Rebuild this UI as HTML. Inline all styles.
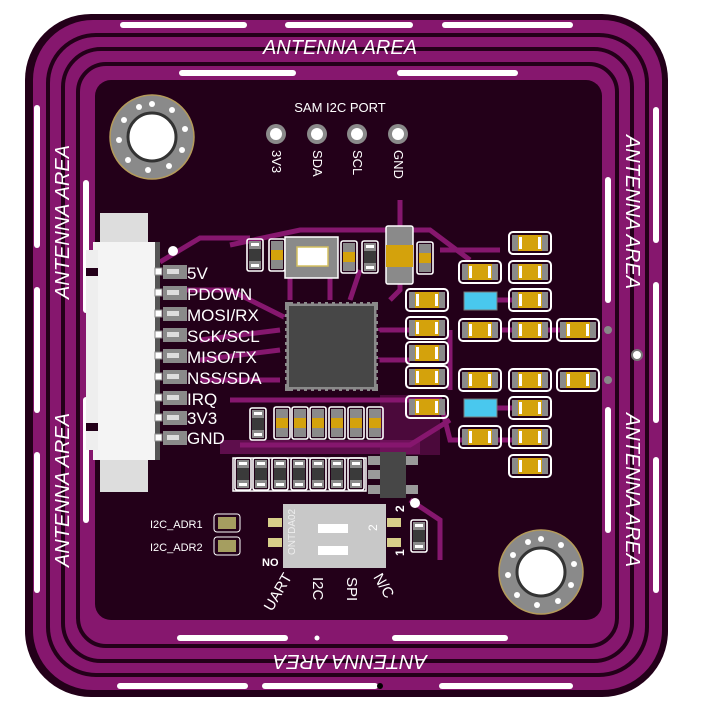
<!DOCTYPE html>
<html><head><meta charset="utf-8"><style>
html,body{margin:0;padding:0;background:#fff;}
svg{display:block;}
text{font-family:"Liberation Sans",sans-serif;fill:#fff;}
</style></head><body>
<svg width="701" height="712" viewBox="0 0 701 712" xmlns="http://www.w3.org/2000/svg">
<defs>
<g id="ch">
<rect x="-21" y="-11" width="42" height="22" rx="4" fill="none" stroke="#fff" stroke-width="2"/>
<rect x="-18" y="-8" width="36" height="16" fill="#8a8a8a"/>
<rect x="-12" y="-8" width="24" height="16" fill="#d4a20c"/>
<rect x="-11" y="-6" width="3" height="12" fill="#fff"/><rect x="8" y="-6" width="3" height="12" fill="#fff"/>
</g>
<g id="cv">
<rect x="-8" y="-16" width="16" height="32" rx="2" fill="none" stroke="#fff" stroke-width="1.6"/>
<rect x="-6" y="-14" width="12" height="28" fill="#8a8a8a"/>
<rect x="-6" y="-5" width="12" height="10" fill="#d4a20c"/>
</g>
<g id="rv">
<rect x="-8" y="-16" width="16" height="32" rx="2" fill="none" stroke="#fff" stroke-width="1.6"/>
<rect x="-6" y="-14" width="12" height="28" fill="#8a8a8a"/>
<rect x="-6" y="-6" width="12" height="12" fill="#3a3a3a"/>
<rect x="-4" y="-12" width="8" height="3" fill="#fff"/><rect x="-4" y="9" width="8" height="3" fill="#fff"/>
</g>
<g id="pin"><circle r="10" fill="#8a8a8a"/><circle r="6" fill="#fff"/></g>
<g id="cpad"><rect x="-12" y="-7" width="24" height="14" fill="#8a8a8a"/><rect x="-8" y="-3" width="12" height="5" fill="#ddd"/><rect x="-20" y="-4" width="7" height="7" fill="#fff" stroke="#888"/></g>
</defs>
<rect x="25" y="14" width="643" height="683" rx="66" fill="#230019"/>
<rect x="33" y="20" width="629" height="670" rx="60" fill="#86176e"/>
<g fill="none" stroke="#230019" stroke-width="4">
<rect x="48" y="35" width="599" height="640" rx="48"/>
<rect x="63" y="49" width="569" height="612" rx="38"/>
<rect x="78" y="64" width="539" height="582" rx="28"/>
</g>
<rect x="95" y="80" width="507" height="540" rx="16" fill="#230019"/>
<g stroke="#fff" stroke-width="6" stroke-linecap="round">
<line x1="123" y1="25" x2="244" y2="25"/><line x1="288" y1="25" x2="410" y2="25"/><line x1="445" y1="25" x2="570" y2="25"/>
<line x1="182" y1="73" x2="293" y2="73"/><line x1="400" y1="73" x2="515" y2="73"/>
<line x1="37" y1="108" x2="37" y2="245"/><line x1="37" y1="290" x2="37" y2="410"/><line x1="37" y1="455" x2="37" y2="590"/>
<line x1="86" y1="183" x2="86" y2="310"/><line x1="86" y1="400" x2="86" y2="520"/>
<line x1="656" y1="110" x2="656" y2="240"/><line x1="656" y1="285" x2="656" y2="420"/><line x1="656" y1="460" x2="656" y2="590"/>
<line x1="608" y1="180" x2="608" y2="300"/><line x1="608" y1="410" x2="608" y2="530"/>
<line x1="180" y1="638" x2="285" y2="638"/><line x1="395" y1="638" x2="505" y2="638"/>
<line x1="120" y1="686" x2="245" y2="686"/><line x1="265" y1="686" x2="375" y2="686"/><line x1="442" y1="686" x2="570" y2="686"/>
</g>
<circle cx="380" cy="686" r="3" fill="#000"/><circle cx="317" cy="638" r="2.5" fill="#fff"/>
<g font-size="20" font-style="italic">
<text x="340" y="54" text-anchor="middle">ANTENNA AREA</text>
<text transform="translate(350,655) rotate(180)" text-anchor="middle">ANTENNA AREA</text>
<text transform="translate(69,222) rotate(-90)" text-anchor="middle">ANTENNA AREA</text>
<text transform="translate(69,490) rotate(-90)" text-anchor="middle">ANTENNA AREA</text>
<text transform="translate(626,212) rotate(90)" text-anchor="middle">ANTENNA AREA</text>
<text transform="translate(626,490) rotate(90)" text-anchor="middle">ANTENNA AREA</text>
</g>
<g fill="none" stroke="#86176e" stroke-width="5">
<path d="M160 262 L200 238 L250 238"/><path d="M175 290 L230 290 L290 320"/>
<path d="M230 245 L300 230 L430 230 L470 260"/><path d="M390 300 L400 290 L400 200"/>
<path d="M440 250 L500 250"/><path d="M375 330 L410 330"/><path d="M375 360 L410 360"/>
<path d="M230 400 L440 400 L450 440 L520 440"/><path d="M240 445 L410 445 L450 420"/>
<path d="M200 380 L280 380"/><path d="M200 360 L280 350"/><path d="M200 340 L280 330"/>
<path d="M450 330 L450 390"/><path d="M410 500 L440 520 L440 560"/>
<path d="M290 300 L290 260"/><path d="M330 300 L330 270"/><path d="M350 300 L360 270"/>
<path d="M470 300 L520 300"/><path d="M470 408 L520 408"/><path d="M500 330 L560 330"/>
</g>
<g fill="#86176e"><rect x="220" y="440" width="200" height="14" opacity=".6"/><rect x="380" y="395" width="60" height="60" opacity=".4"/></g>
<g transform="translate(152,137)"><circle r="42" fill="#8a8a8a" stroke="#b49a5a" stroke-width="1.5"/><circle r="24" fill="#fff" stroke="#333" stroke-width="3"/>
<g fill="#fff"><circle cx="0" cy="-33" r="3"/><circle cx="20" cy="-27" r="3"/><circle cx="33" cy="-8" r="3"/><circle cx="30" cy="13" r="3"/><circle cx="17" cy="29" r="3"/><circle cx="-4" cy="33" r="3"/><circle cx="-24" cy="23" r="3"/><circle cx="-33" cy="3" r="3"/><circle cx="-28" cy="-17" r="3"/><circle cx="-13" cy="-30" r="3"/></g></g>
<g transform="translate(541,572)"><circle r="42" fill="#8a8a8a" stroke="#b49a5a" stroke-width="1.5"/><circle r="24" fill="#fff" stroke="#333" stroke-width="3"/>
<g fill="#fff"><circle cx="0" cy="-33" r="3"/><circle cx="20" cy="-27" r="3"/><circle cx="33" cy="-8" r="3"/><circle cx="30" cy="13" r="3"/><circle cx="17" cy="29" r="3"/><circle cx="-4" cy="33" r="3"/><circle cx="-24" cy="23" r="3"/><circle cx="-33" cy="3" r="3"/><circle cx="-28" cy="-17" r="3"/><circle cx="-13" cy="-30" r="3"/></g></g>
<text x="340" y="112" font-size="13" text-anchor="middle">SAM I2C PORT</text>
<use href="#pin" x="276" y="134"/><use href="#pin" x="317" y="134"/><use href="#pin" x="357" y="134"/><use href="#pin" x="398" y="134"/>
<g font-size="13"><text transform="translate(272,150) rotate(90)">3V3</text><text transform="translate(313,150) rotate(90)">SDA</text><text transform="translate(353,150) rotate(90)">SCL</text><text transform="translate(394,150) rotate(90)">GND</text></g>
<rect x="100" y="213" width="48" height="32" fill="#ddd"/><rect x="100" y="458" width="48" height="34" fill="#ddd"/>
<rect x="93" y="242" width="65" height="218" fill="#f4f4f4"/><rect x="86" y="250" width="12" height="200" fill="#eee"/>
<rect x="86" y="268" width="12" height="8" fill="#230019"/><rect x="86" y="423" width="12" height="8" fill="#230019"/>
<rect x="155" y="242" width="5" height="218" fill="#555"/>
<circle cx="173" cy="251" r="5" fill="#fff"/>
<g><use href="#cpad" x="175" y="272"/><use href="#cpad" x="175" y="293"/><use href="#cpad" x="175" y="314"/><use href="#cpad" x="175" y="335"/><use href="#cpad" x="175" y="356"/><use href="#cpad" x="175" y="377"/><use href="#cpad" x="175" y="398"/><use href="#cpad" x="175" y="418"/><use href="#cpad" x="175" y="438"/></g>
<g font-size="17"><text x="187" y="279">5V</text><text x="187" y="300">PDOWN</text><text x="187" y="321">MOSI/RX</text><text x="187" y="342">SCK/SCL</text><text x="187" y="363">MISO/TX</text><text x="187" y="384">NSS/SDA</text><text x="187" y="405">IRQ</text><text x="187" y="424">3V3</text><text x="187" y="444">GND</text></g>
<rect x="285" y="302" width="93" height="89" fill="#8a8a8a"/>
<g stroke="#230019" stroke-width="3"><path d="M285 310 V384 M378 310 V384" stroke-dasharray="4 3"/><path d="M293 302 H372 M293 391 H372" stroke-dasharray="4 3"/></g>
<rect x="289" y="306" width="85" height="81" fill="#474747"/>
<use href="#rv" x="255" y="255"/><use href="#cv" x="277" y="255"/>
<rect x="285" y="237" width="53" height="41" fill="#8a8a8a" stroke="#fff" stroke-width="1.5"/><rect x="297" y="247" width="31" height="19" fill="#fff" stroke="#d4c060" stroke-width="1.5"/>
<use href="#cv" x="349" y="257"/><use href="#rv" x="370" y="257"/>
<rect x="386" y="226" width="27" height="58" rx="2" fill="#8a8a8a" stroke="#fff" stroke-width="1.5"/><rect x="386" y="245" width="27" height="22" fill="#d4a20c"/>
<use href="#cv" x="425" y="258"/>
<use href="#ch" x="427" y="300"/><use href="#ch" x="427" y="328"/><use href="#ch" x="427" y="353"/><use href="#ch" x="427" y="377"/><use href="#ch" x="427" y="407"/>
<use href="#ch" x="480" y="272"/><use href="#ch" x="480" y="330"/><use href="#ch" x="480" y="380"/><use href="#ch" x="480" y="437"/>
<rect x="464" y="292" width="33" height="18" fill="#49c8ee" stroke="#777"/><rect x="464" y="399" width="33" height="18" fill="#49c8ee" stroke="#777"/>
<use href="#ch" x="530" y="243"/><use href="#ch" x="530" y="272"/><use href="#ch" x="530" y="300"/><use href="#ch" x="530" y="330"/><use href="#ch" x="530" y="380"/><use href="#ch" x="530" y="408"/><use href="#ch" x="530" y="437"/><use href="#ch" x="530" y="466"/>
<use href="#ch" x="578" y="330"/><use href="#ch" x="578" y="380"/>
<circle cx="608" cy="330" r="4" fill="#888"/><circle cx="608" cy="380" r="4" fill="#888"/><circle cx="637" cy="355" r="5" fill="#fff" stroke="#777" stroke-width="2"/>
<use href="#rv" x="258" y="424"/>
<use href="#cv" x="282" y="423"/><use href="#cv" x="300" y="423"/><use href="#cv" x="318" y="423"/><use href="#cv" x="337" y="423"/><use href="#cv" x="356" y="423"/><use href="#cv" x="375" y="423"/>
<rect x="233" y="458" width="133" height="33" fill="none" stroke="#fff" stroke-width="1.5"/>
<use href="#rv" x="243" y="474"/><use href="#rv" x="261" y="474"/><use href="#rv" x="280" y="474"/><use href="#rv" x="299" y="474"/><use href="#rv" x="318" y="474"/><use href="#rv" x="337" y="474"/><use href="#rv" x="356" y="474"/>
<g fill="#9a9a9a"><rect x="368" y="456" width="12" height="9"/><rect x="368" y="470" width="12" height="9"/><rect x="368" y="485" width="12" height="9"/><rect x="406" y="456" width="12" height="9"/><rect x="406" y="485" width="12" height="9"/></g>
<rect x="380" y="452" width="26" height="46" fill="#474747"/>
<circle cx="415" cy="503" r="5" fill="#fff"/>
<rect x="283" y="504" width="103" height="64" fill="#c8c8c8"/>
<rect x="318" y="524" width="30" height="9" fill="#fff"/><rect x="318" y="546" width="30" height="9" fill="#fff"/>
<rect x="268" y="518" width="14" height="9" fill="#d8cf8a"/><rect x="268" y="538" width="14" height="9" fill="#d8cf8a"/>
<rect x="387" y="518" width="14" height="9" fill="#d8cf8a"/><rect x="387" y="538" width="14" height="9" fill="#d8cf8a"/>
<use href="#rv" x="419" y="536"/>
<text transform="translate(295,555) rotate(-90)" font-size="10" style="fill:#eee">ONTDA02</text>
<text x="262" y="566" font-size="11" font-weight="bold">NO</text>
<text transform="translate(404,556) rotate(-90)" font-size="12" font-weight="bold">1</text>
<text transform="translate(404,512) rotate(-90)" font-size="12" font-weight="bold">2</text>
<text transform="translate(377,531) rotate(-90)" font-size="12">2</text>
<g font-size="15"><text transform="translate(272,612) rotate(-60)">UART</text><text transform="translate(313,577) rotate(90)">I2C</text><text transform="translate(347,577) rotate(90)">SPI</text><text transform="translate(373,577) rotate(60)">N/C</text></g>
<g font-size="11"><text x="150" y="528">I2C_ADR1</text><text x="150" y="551">I2C_ADR2</text></g>
<rect x="214" y="514" width="26" height="18" rx="3" fill="none" stroke="#fff"/><rect x="218" y="517" width="18" height="12" fill="#a59e60"/>
<rect x="214" y="537" width="26" height="18" rx="3" fill="none" stroke="#fff"/><rect x="218" y="540" width="18" height="12" fill="#a59e60"/>
</svg>
</body></html>
